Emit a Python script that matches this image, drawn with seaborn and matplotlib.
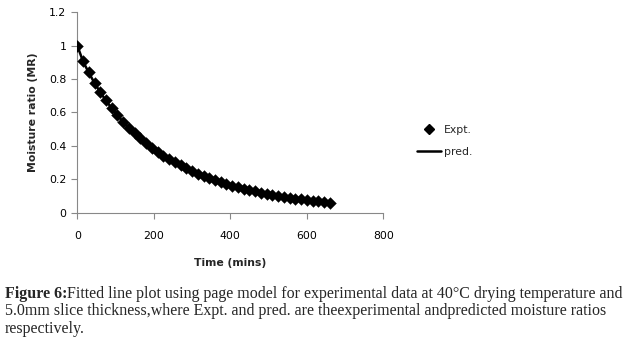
import matplotlib
matplotlib.use("Agg")
import matplotlib.pyplot as plt
import seaborn as sns
import pandas as pd
from matplotlib.lines import Line2D

time_min = [0, 15, 30, 45, 60, 75, 90, 105, 120, 135, 150, 165, 180, 195, 210,
            225, 240, 255, 270, 285, 300, 315, 330, 345, 360, 375, 390, 405, 420,
            435, 450, 465, 480, 495, 510, 525, 540, 555, 570, 585, 600, 615, 630,
            645, 660]
mr_expt = [1.0, 0.907, 0.84, 0.777, 0.722, 0.672, 0.626, 0.584, 0.545, 0.509,
           0.476, 0.445, 0.417, 0.390, 0.366, 0.343, 0.322, 0.302, 0.284, 0.266,
           0.250, 0.235, 0.221, 0.208, 0.196, 0.184, 0.173, 0.163, 0.154, 0.145,
           0.137, 0.129, 0.121, 0.115, 0.108, 0.102, 0.096, 0.091, 0.086, 0.081,
           0.077, 0.073, 0.069, 0.065, 0.062]
mr_pred = [1.0, 0.905, 0.838, 0.776, 0.721, 0.671, 0.625, 0.583, 0.544, 0.508,
           0.475, 0.444, 0.416, 0.389, 0.365, 0.342, 0.321, 0.301, 0.283, 0.265,
           0.249, 0.234, 0.220, 0.207, 0.195, 0.183, 0.172, 0.162, 0.153, 0.144,
           0.136, 0.128, 0.121, 0.114, 0.107, 0.101, 0.096, 0.090, 0.085, 0.081,
           0.076, 0.072, 0.068, 0.064, 0.061]
x_ticks = [0, 200, 400, 600, 800]
y_ticks = [0, 0.2, 0.4, 0.6, 0.8, 1.0, 1.2]
y_tick_labels = ["0", "0.2", "0.4", "0.6", "0.8", "1", "1.2"]

df = pd.DataFrame({"time": time_min, "expt": mr_expt, "pred": mr_pred})

sns.set_style("white")
plt.rcParams["font.family"] = ["DejaVu Sans"]

fig = plt.figure(figsize=(6.31, 3.44), dpi=100)
ax = fig.add_axes([0.1225, 0.381, 0.485, 0.584])

sns.lineplot(data=df, x="time", y="pred", ax=ax, color="black", linewidth=1.8, zorder=2)
sns.scatterplot(data=df, x="time", y="expt", ax=ax, marker="D", color="black",
                s=36, edgecolor="black", linewidth=0.3, zorder=3)

ax.set_xlim(0, 800)
ax.set_ylim(0, 1.2)
ax.set_xticks(x_ticks)
ax.set_yticks(y_ticks)
ax.set_yticklabels(y_tick_labels)
ax.tick_params(axis="both", labelsize=7.8, colors="#888888", labelcolor="black",
               length=4, width=0.8, direction="out", left=True, bottom=True)
ax.tick_params(axis="x", pad=9)
ax.tick_params(axis="y", pad=4)
for s in ["top", "right"]:
    ax.spines[s].set_visible(False)
for s in ["left", "bottom"]:
    ax.spines[s].set_color("#888888")
    ax.spines[s].set_linewidth(0.8)
ax.set_xlabel("Time (mins)", fontsize=7.8, fontweight="bold", labelpad=12)
ax.set_ylabel("Moisture ratio (MR)", fontsize=7.8, fontweight="bold", labelpad=8)

handles = [Line2D([], [], marker="D", color="black", linestyle="none", markersize=5.5),
           Line2D([], [], color="black", linewidth=1.8)]
fig.legend(handles, ["Expt.", "pred."], loc="center left",
           bbox_to_anchor=(0.645, 0.59), frameon=False, fontsize=7.8,
           handlelength=2.2, labelspacing=1.1, handletextpad=0.3)

serif = ["Liberation Serif", "DejaVu Serif"]
cap_size = 11.55
renderer = fig.canvas.get_renderer()
t0 = fig.text(0.008, 0.135, "Figure 6:", fontsize=cap_size, fontweight="bold", family=serif)
bb = t0.get_window_extent(renderer=renderer)
x_after = bb.x1 / fig.bbox.width
fig.text(x_after, 0.135, "Fitted line plot using page model for experimental data at 40\u00b0C drying temperature and",
         fontsize=cap_size, family=serif)
fig.text(0.008, 0.083, "5.0mm slice thickness,where Expt. and pred. are theexperimental andpredicted moisture ratios",
         fontsize=cap_size, family=serif)
fig.text(0.008, 0.031, "respectively.", fontsize=cap_size, family=serif)

fig.savefig("out.png", dpi=100)
